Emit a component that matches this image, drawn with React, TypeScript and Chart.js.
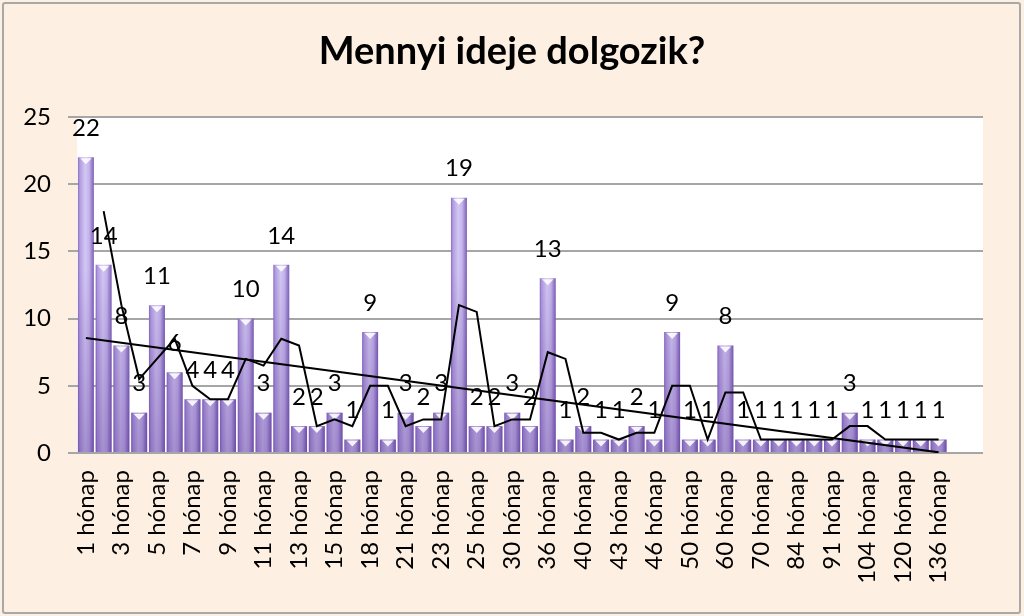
import React, { useEffect, useRef } from "react";
import { Chart, registerables } from "chart.js";

Chart.register(...registerables);

// visible axis labels (every other category is labelled)
const tickLabels = [
    "1 hónap", "3 hónap", "5 hónap", "7 hónap", "9 hónap", "11 hónap", "13 hónap",
    "15 hónap", "18 hónap", "21 hónap", "23 hónap", "25 hónap", "30 hónap", "36 hónap",
    "40 hónap", "43 hónap", "46 hónap", "50 hónap", "60 hónap", "70 hónap", "84 hónap",
    "91 hónap", "104 hónap", "120 hónap", "136 hónap",
];

const barValues = [
    22, 14, 8, 3, 11, 6, 4, 4, 4, 10, 3, 14, 2, 2, 3, 1, 9, 1, 3, 2, 3, 19, 2, 2, 3,
    2, 13, 1, 2, 1, 1, 2, 1, 9, 1, 1, 8, 1, 1, 1, 1, 1, 1, 3, 1, 1, 1, 1, 1,
];

// 2-period moving average as drawn
const movingAvg = [
    null, 18, 11, 5.5, 7, 8.5, 5, 4, 4, 7, 6.5, 8.5, 8, 2, 2.5, 2, 5, 5, 2, 2.5, 2.5,
    11, 10.5, 2, 2.5, 2.5, 7.5, 7, 1.5, 1.5, 1, 1.5, 1.5, 5, 5, 1, 4.5, 4.5, 1, 1, 1,
    1, 1, 2, 2, 1, 1, 1, 1,
];

// linear trend line end points
const trendStart = 8.56;
const trendEnd = 0.05;

const title = "Mennyi ideje dolgozik?";
const slotCount = 51;
const yTicks = [0, 5, 10, 15, 20, 25];

const labels = Array.from({ length: slotCount }, (_, i) =>
    i % 2 === 0 && tickLabels[i / 2] ? tickLabels[i / 2] : ""
);
const trendData: (number | null)[] = barValues.map(() => null);
trendData[0] = trendStart;
trendData[barValues.length - 1] = trendEnd;

const FONT = 'Lato, "Open Sans", sans-serif';

const plotBackground = {
    id: "plotBackground",
    beforeDraw(chart: Chart) {
        const { ctx, chartArea } = chart;
        ctx.save();
        ctx.fillStyle = "#ffffff";
        ctx.fillRect(chartArea.left, chartArea.top, chartArea.right - chartArea.left, chartArea.bottom - chartArea.top);
        // title, centred on the whole frame
        ctx.font = `bold 38px ${FONT}`;
        ctx.fillStyle = "#000000";
        ctx.textAlign = "center";
        ctx.textBaseline = "middle";
        ctx.fillText(title, chart.width / 2, 52);
        ctx.restore();
    },
};

// darker shading toward the base + light triangle caps
const barShade = {
    id: "barShade",
    afterDatasetDraw(chart: Chart, args: any) {
        if (args.index !== 2) return;
        const { ctx, chartArea } = chart;
        const shade = ctx.createLinearGradient(0, chartArea.top, 0, chartArea.bottom);
        shade.addColorStop(0, "rgba(70,30,130,0)");
        shade.addColorStop(0.45, "rgba(70,30,130,0)");
        shade.addColorStop(1, "rgba(70,30,130,0.32)");
        ctx.save();
        args.meta.data.forEach((el: any) => {
            ctx.fillStyle = shade;
            ctx.fillRect(el.x - el.width / 2, el.y, el.width, el.base - el.y);
            const w = el.width * 0.36;
            ctx.fillStyle = "rgba(255,255,255,0.88)";
            ctx.beginPath();
            ctx.moveTo(el.x - w, el.y + 1);
            ctx.lineTo(el.x + w, el.y + 1);
            ctx.lineTo(el.x, el.y + 7);
            ctx.closePath();
            ctx.fill();
        });
        ctx.restore();
    },
};

const valueLabels = {
    id: "valueLabels",
    afterDatasetsDraw(chart: Chart) {
        const { ctx } = chart;
        const meta = chart.getDatasetMeta(2);
        ctx.save();
        ctx.font = `24px ${FONT}`;
        ctx.fillStyle = "#000000";
        ctx.textAlign = "center";
        ctx.textBaseline = "middle";
        meta.data.forEach((el: any, i: number) => {
            const v = barValues[i];
            if (v == null) return;
            ctx.fillText(String(v), el.x, el.y - 29);
        });
        ctx.restore();
    },
};

const App: React.FC = () => {
    const canvasRef = useRef<HTMLCanvasElement>(null);

    useEffect(() => {
        if (!canvasRef.current) return;
        const ctx = canvasRef.current.getContext("2d");
        if (!ctx) return;

        const barFill = (c: any) => {
            const chart = c.chart;
            if (!chart.chartArea || c.dataIndex == null) return "#a48fd6";
            const xs = chart.scales.x;
            const cx = xs.getPixelForValue(c.dataIndex);
            const w = (xs.width / slotCount) * 0.9;
            const g = chart.ctx.createLinearGradient(cx - w / 2, 0, cx + w / 2, 0);
            g.addColorStop(0, "#8a6cc4");
            g.addColorStop(0.12, "#b09be0");
            g.addColorStop(0.45, "#d3c7f3");
            g.addColorStop(0.7, "#c4b4ec");
            g.addColorStop(1, "#7c5eb6");
            return g;
        };

        const chart = new Chart(ctx, {
            type: "bar",
            data: {
                labels: labels,
                datasets: [
                    {
                        type: "line",
                        label: "Trend",
                        data: trendData,
                        borderColor: "#000000",
                        borderWidth: 2,
                        pointRadius: 0,
                        spanGaps: true,
                        tension: 0,
                    },
                    {
                        type: "line",
                        label: "Mozgóátlag",
                        data: movingAvg,
                        borderColor: "#000000",
                        borderWidth: 2,
                        pointRadius: 0,
                        tension: 0,
                    },
                    {
                        type: "bar",
                        label: "Fő",
                        data: barValues,
                        backgroundColor: barFill,
                        borderWidth: 0,
                        categoryPercentage: 1,
                        barPercentage: 0.9,
                    },
                ],
            },
            options: {
                animation: false,
                responsive: true,
                maintainAspectRatio: false,
                layout: {
                    padding: { left: 0, right: 41, top: 117, bottom: 0 },
                },
                plugins: {
                    legend: { display: false },
                    tooltip: { enabled: false },
                    title: { display: false },
                },
                scales: {
                    x: {
                        grid: { display: false, drawTicks: false },
                        border: { display: false },
                        ticks: {
                            autoSkip: false,
                            maxRotation: 90,
                            minRotation: 90,
                            padding: 17,
                            color: "#000000",
                            font: { family: FONT, size: 24 },
                        },
                        afterFit: (scale: any) => {
                            scale.height = 163;
                        },
                    },
                    y: {
                        min: 0,
                        max: 25,
                        afterBuildTicks: (scale: any) => {
                            scale.ticks = yTicks.map((v) => ({ value: v }));
                        },
                        grid: {
                            color: "#a6a6a6",
                            lineWidth: 2,
                            tickLength: 9,
                        },
                        border: { display: false },
                        ticks: {
                            padding: 17,
                            color: "#000000",
                            font: { family: FONT, size: 24 },
                        },
                        afterFit: (scale: any) => {
                            scale.width = 77;
                        },
                    },
                },
            },
            plugins: [plotBackground, barShade, valueLabels],
        });

        return () => {
            chart.destroy();
        };
    }, []);

    return (
        <div style={{ position: "fixed", left: 0, top: 0, width: 1024, height: 616, background: "#fdefe2" }}>
            <div
                style={{
                    position: "absolute",
                    left: 2,
                    top: 2,
                    width: 1019,
                    height: 612,
                    boxSizing: "border-box",
                    border: "2px solid #a8a8a8",
                    borderRadius: 3,
                }}
            />
            <div style={{ position: "absolute", left: 0, top: 0, width: 1024, height: 616 }}>
                <canvas ref={canvasRef}></canvas>
            </div>
        </div>
    );
};

export default App;
